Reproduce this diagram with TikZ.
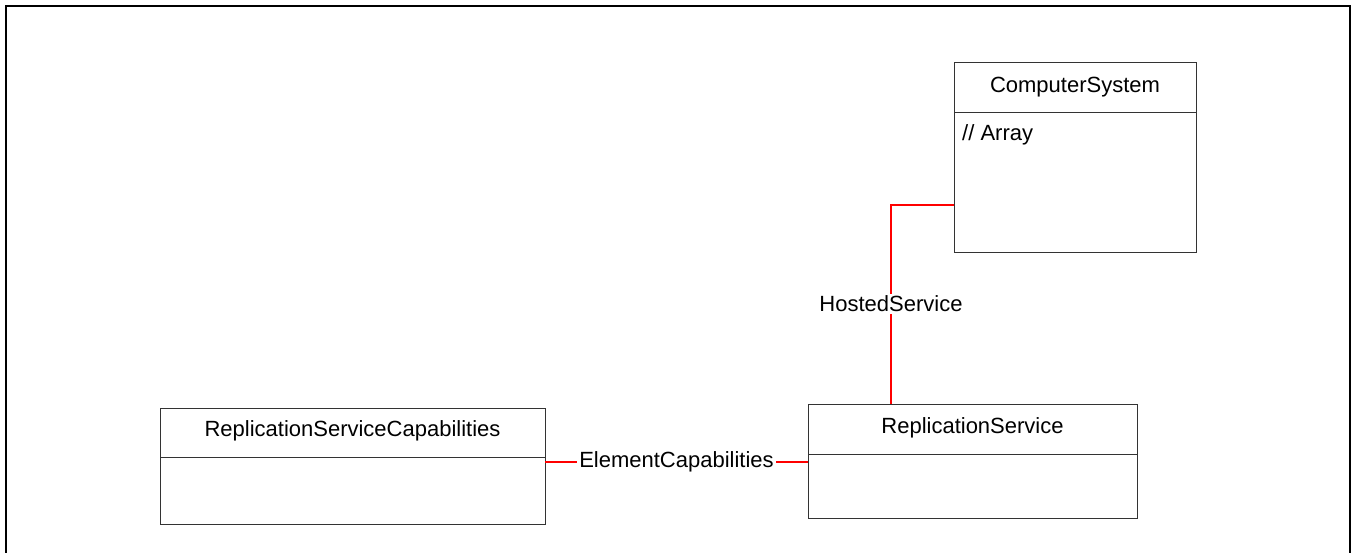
\documentclass[tikz,border=0pt]{standalone}
\usepackage{fontspec}
\setmainfont{Liberation Sans}
\usetikzlibrary{calc}
\begin{document}
\begin{tikzpicture}[x=1pt,y=-1pt,
  font=\fontsize{22}{26}\selectfont,
  umlbox/.style={draw=black!80,line width=1pt,inner sep=0pt,outer sep=0pt,fill=white},
  divline/.style={draw=black!80,line width=1pt},
  conn/.style={color=red,line width=1.2pt},
  lbl/.style={fill=white,inner sep=2pt,text=black},
  frame/.style={draw=black,line width=2.2pt}]
\useasboundingbox (0,0) rectangle (1352,552);
\draw[frame] (6,570) -- (6,6) -- (1350,6) -- (1350,570);
% boxes
\node[umlbox,minimum width=242pt,minimum height=190pt] (cs) at (1075,157) {};
\node[umlbox,minimum width=329pt,minimum height=114pt] (rs) at (972.5,461) {};
\node[umlbox,minimum width=385pt,minimum height=116pt] (rsc) at (352.5,466) {};
% dividers
\draw[divline] ([yshift=-50pt]cs.north west) -- ([yshift=-50pt]cs.north east);
\draw[divline] ([yshift=-50pt]rs.north west) -- ([yshift=-50pt]rs.north east);
\draw[divline] ([yshift=-49pt]rsc.north west) -- ([yshift=-49pt]rsc.north east);
% titles
\node[anchor=base,inner sep=0pt] (cst) at (1075,92) {ComputerSystem};
\node[anchor=base west,inner sep=0pt] (csa) at (962,140) {// Array};
\node[anchor=base,inner sep=0pt] (rst) at (972.5,433) {ReplicationService};
\node[anchor=base,inner sep=0pt] (rsct) at (352.5,436) {ReplicationServiceCapabilities};
% connectors
\coordinate (hsa) at ([yshift=-48pt]cs.west);
\coordinate (hsb) at ([xshift=-81.5pt]rs.north);
\draw[conn] (hsa) -| (hsb);
\node[lbl] (hs) at (hsa -| hsb) [yshift=-99pt] {HostedService};
\draw[conn] ([yshift=4pt]rsc.east) -- node[midway,lbl] (ec) {ElementCapabilities} ([yshift=4pt]rsc.east -| rs.west);
\end{tikzpicture}
\end{document}
